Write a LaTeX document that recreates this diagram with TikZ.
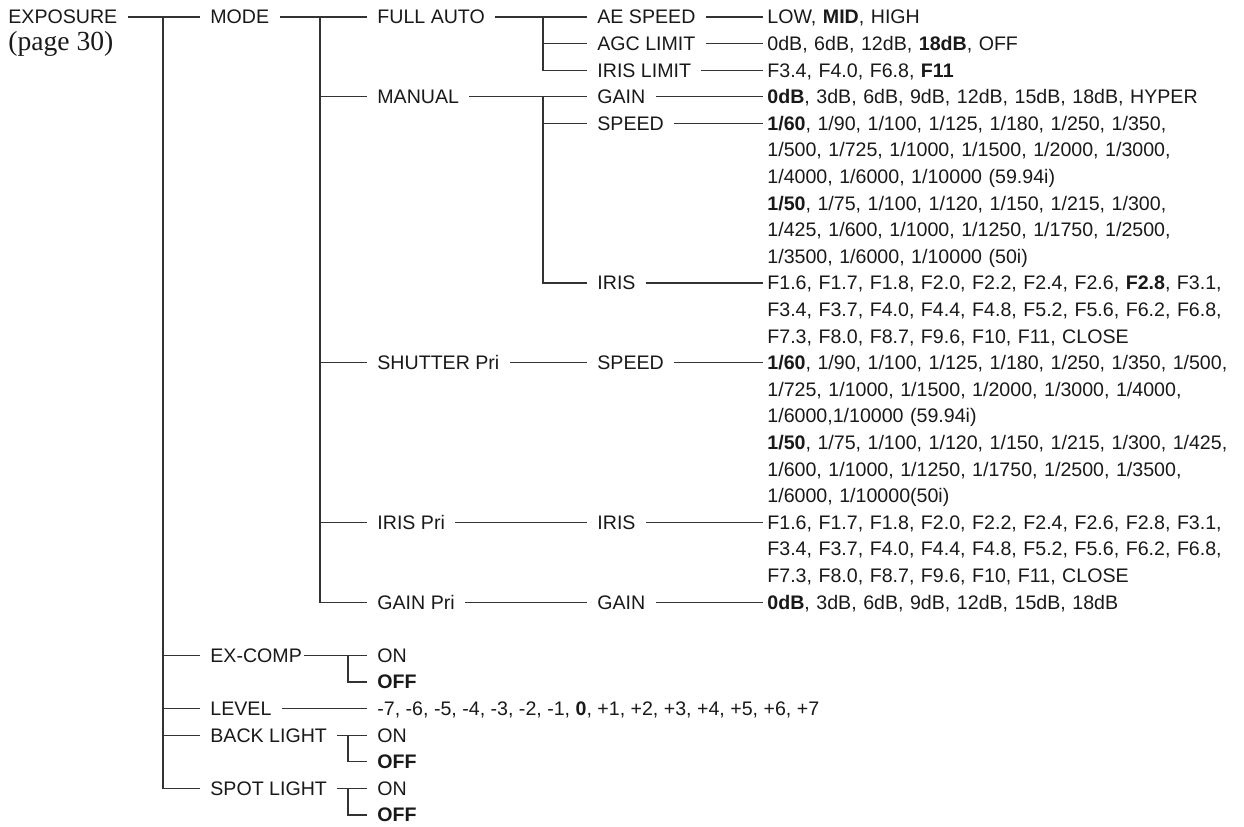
\documentclass[tikz,border=0pt]{standalone}
\usepackage{fontspec}
\setmainfont{Liberation Sans}
\newfontfamily\pagefont{Liberation Serif}
\usetikzlibrary{positioning}

\begin{document}
\begin{tikzpicture}[
  x=0.5pt, y=-13.3pt,
  font=\fontsize{9.8}{13.3}\selectfont, text=black!90,
  lab/.style={anchor=west, inner xsep=5pt, inner ysep=0pt, text height=7pt, text depth=0pt},
  val/.style={lab, inner xsep=2pt, text width=236pt, align=left},
  ln/.style={draw=black!80, line width=0.6pt}
]
\useasboundingbox (0,-0.639) rectangle (1244,30.451);

%% level 0
\node[lab] (expo) at (-2,0) {EXPOSURE};
\node[anchor=west, inner sep=0pt, font=\pagefont\fontsize{13.8}{16}\selectfont] (page) at (8,1) {(page 30)};

%% level 1
\node[lab] (mode) at (200,0) {MODE};
\node[lab] (excomp) at (200,24) {EX-COMP};
\node[lab] (level) at (200,26) {LEVEL};
\node[lab] (back) at (200,27) {BACK LIGHT};
\node[lab] (spot) at (200,29) {SPOT LIGHT};

%% level 2
\node[lab] (auto) at (367,0) {FULL AUTO};
\node[lab] (manual) at (367,3) {MANUAL};
\node[lab] (shutter) at (367,13) {SHUTTER Pri};
\node[lab] (irispri) at (367,19) {IRIS Pri};
\node[lab] (gainpri) at (367,22) {GAIN Pri};
\node[lab] (on1) at (367,24) {ON};
\node[lab] (off1) at (367,25) {\textbf{OFF}};
\node[lab] (vlevel) at (367,26) {-7, -6, -5, -4, -3, -2, -1, \textbf{0}, +1, +2, +3, +4, +5, +6, +7};
\node[lab] (on2) at (367,27) {ON};
\node[lab] (off2) at (367,28) {\textbf{OFF}};
\node[lab] (on3) at (367,29) {ON};
\node[lab] (off3) at (367,30) {\textbf{OFF}};

%% level 3
\node[lab] (ae) at (587,0) {AE SPEED};
\node[lab] (agc) at (587,1) {AGC LIMIT};
\node[lab] (irislim) at (587,2) {IRIS LIMIT};
\node[lab] (gain) at (587,3) {GAIN};
\node[lab] (speed) at (587,4) {SPEED};
\node[lab] (iris) at (587,10) {IRIS};
\node[lab] (speedb) at (587,13) {SPEED};
\node[lab] (irisb) at (587,19) {IRIS};
\node[lab] (gainb) at (587,22) {GAIN};

%% values
\node[val] (vae) at (763,0) {LOW, \textbf{MID}, HIGH};
\node[val] (vagc) at (763,1) {0dB, 6dB, 12dB, \textbf{18dB}, OFF};
\node[val] (virislim) at (763,2) {F3.4, F4.0, F6.8, \textbf{F11}};
\node[val] (vgain) at (763,3) {\textbf{0dB}, 3dB, 6dB, 9dB, 12dB, 15dB, 18dB, HYPER};
\node[val] (vspeed) at (763,4) {\textbf{1/60}, 1/90, 1/100, 1/125, 1/180, 1/250, 1/350,\\
  1/500, 1/725, 1/1000, 1/1500, 1/2000, 1/3000,\\
  1/4000, 1/6000, 1/10000 (59.94i)\\
  \textbf{1/50}, 1/75, 1/100, 1/120, 1/150, 1/215, 1/300,\\
  1/425, 1/600, 1/1000, 1/1250, 1/1750, 1/2500,\\
  1/3500, 1/6000, 1/10000 (50i)};
\node[val] (viris) at (763,10) {F1.6, F1.7, F1.8, F2.0, F2.2, F2.4, F2.6, \textbf{F2.8}, F3.1,\\
  F3.4, F3.7, F4.0, F4.4, F4.8, F5.2, F5.6, F6.2, F6.8,\\
  F7.3, F8.0, F8.7, F9.6, F10, F11, CLOSE};
\node[val] (vspeedb) at (763,13) {\textbf{1/60}, 1/90, 1/100, 1/125, 1/180, 1/250, 1/350, 1/500,\\
  1/725, 1/1000, 1/1500, 1/2000, 1/3000, 1/4000,\\
  1/6000,1/10000 (59.94i)\\
  \textbf{1/50}, 1/75, 1/100, 1/120, 1/150, 1/215, 1/300, 1/425,\\
  1/600, 1/1000, 1/1250, 1/1750, 1/2500, 1/3500,\\
  1/6000, 1/10000(50i)};
\node[val] (virisb) at (763,19) {F1.6, F1.7, F1.8, F2.0, F2.2, F2.4, F2.6, F2.8, F3.1,\\
  F3.4, F3.7, F4.0, F4.4, F4.8, F5.2, F5.6, F6.2, F6.8,\\
  F7.3, F8.0, F8.7, F9.6, F10, F11, CLOSE};
\node[val] (vgainb) at (763,22) {\textbf{0dB}, 3dB, 6dB, 9dB, 12dB, 15dB, 18dB};

%% junctions
\coordinate (j-expo) at (163,0);
\coordinate (j-mode) at (320,0);
\coordinate (j-auto) at (543,0);
\coordinate (j-manual) at (543,3);
\coordinate (j-excomp) at (348,24);
\coordinate (j-back) at (348,27);
\coordinate (j-spot) at (348,29);

%% edges
\draw[ln] (expo.east) -- (mode.west);
\draw[ln] (j-expo) |- (excomp.west);
\draw[ln] (j-expo) |- (level.west);
\draw[ln] (j-expo) |- (back.west);
\draw[ln] (j-expo) |- (spot.west);

\draw[ln] (mode.east) -- (auto.west);
\draw[ln] (j-mode) |- (manual.west);
\draw[ln] (j-mode) |- (shutter.west);
\draw[ln] (j-mode) |- (irispri.west);
\draw[ln] (j-mode) |- (gainpri.west);

\draw[ln] (auto.east) -- (ae.west);
\draw[ln] (j-auto) |- (agc.west);
\draw[ln] (j-auto) |- (irislim.west);
\draw[ln] (manual.east) -- (gain.west);
\draw[ln] (j-manual) |- (speed.west);
\draw[ln] (j-manual) |- (iris.west);
\draw[ln] (shutter.east) -- (speedb.west);
\draw[ln] (irispri.east) -- (irisb.west);
\draw[ln] (gainpri.east) -- (gainb.west);

\draw[ln] (ae.east) -- (vae.west);
\draw[ln] (agc.east) -- (vagc.west);
\draw[ln] (irislim.east) -- (virislim.west);
\draw[ln] (gain.east) -- (vgain.west);
\draw[ln] (speed.east) -- (vspeed.west);
\draw[ln] (iris.east) -- (viris.west);
\draw[ln] (speedb.east) -- (vspeedb.west);
\draw[ln] (irisb.east) -- (virisb.west);
\draw[ln] (gainb.east) -- (vgainb.west);

\draw[ln] ([xshift=-4pt]excomp.east) -- (on1.west);
\draw[ln] (j-excomp) |- (off1.west);
\draw[ln] (level.east) -- (vlevel.west);
\draw[ln] (back.east) -- (on2.west);
\draw[ln] (j-back) |- (off2.west);
\draw[ln] (spot.east) -- (on3.west);
\draw[ln] (j-spot) |- (off3.west);
\end{tikzpicture}
\end{document}
